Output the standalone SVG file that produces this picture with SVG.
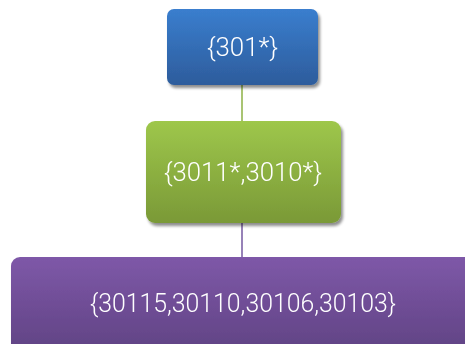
<svg xmlns="http://www.w3.org/2000/svg" width="465" height="344" viewBox="0 0 465 344">
  <defs>
    <linearGradient id="gBlue" x1="0" y1="0" x2="0" y2="1">
      <stop offset="0" stop-color="#3a7ece"/>
      <stop offset="1" stop-color="#2d5c9c"/>
    </linearGradient>
    <linearGradient id="gGreen" x1="0" y1="0" x2="0" y2="1">
      <stop offset="0" stop-color="#9ec74b"/>
      <stop offset="1" stop-color="#7a9937"/>
    </linearGradient>
    <linearGradient id="gPurple" x1="0" y1="0" x2="0" y2="1">
      <stop offset="0" stop-color="#7e58a8"/>
      <stop offset="1" stop-color="#5f4282"/>
    </linearGradient>
    <filter id="shadow" x="-10%" y="-10%" width="125%" height="130%">
      <feGaussianBlur in="SourceAlpha" stdDeviation="1.5"/>
      <feOffset dx="1.5" dy="2.5" result="b"/>
      <feComponentTransfer><feFuncA type="linear" slope="0.45"/></feComponentTransfer>
      <feMerge><feMergeNode/><feMergeNode in="SourceGraphic"/></feMerge>
    </filter>
  </defs>
  <style>
    .lbl { font-family: Roboto, "Liberation Sans", sans-serif; font-weight: 300; font-size: 25px; fill: #ffffff; text-anchor: middle; }
  </style>
  <rect width="465" height="344" fill="#ffffff"/>

  <g id="connectors" fill="none" stroke-width="1.5">
    <line x1="242" y1="85" x2="242" y2="121" stroke="#8db144"/>
    <line x1="242" y1="223" x2="242" y2="257" stroke="#7458a0"/>
  </g>

  <g id="node-301" filter="url(#shadow)">
    <rect x="167" y="9" width="151" height="76" rx="7" fill="url(#gBlue)"/>
    <text class="lbl" x="242.5" y="56" textLength="71" lengthAdjust="spacingAndGlyphs">{301*}</text>
  </g>

  <g id="node-3011-3010" filter="url(#shadow)">
    <rect x="146" y="121" width="195" height="102" rx="9" fill="url(#gGreen)"/>
    <text class="lbl" x="243" y="181" textLength="158" lengthAdjust="spacingAndGlyphs">{3011*,3010*}</text>
  </g>

  <g id="node-leaves" filter="url(#shadow)">
    <rect x="11" y="257" width="470" height="100" rx="9" fill="url(#gPurple)"/>
    <text class="lbl" x="243" y="312" textLength="306" lengthAdjust="spacingAndGlyphs">{30115,30110,30106,30103}</text>
  </g>
</svg>
